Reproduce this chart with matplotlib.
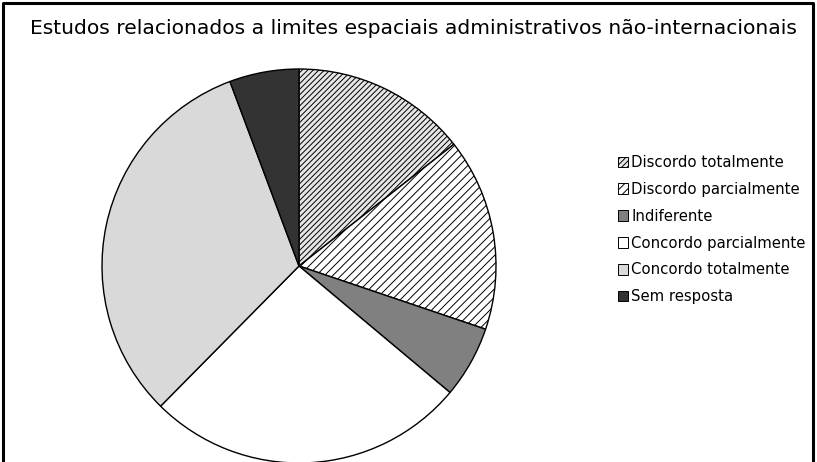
import matplotlib.pyplot as plt
import matplotlib as mpl

mpl.rcParams['hatch.linewidth'] = 0.7

title = 'Estudos relacionados a limites espaciais administrativos não-internacionais'
labels = ['Discordo totalmente', 'Discordo parcialmente', 'Indiferente',
          'Concordo parcialmente', 'Concordo totalmente', 'Sem resposta']
values = [14.4, 15.8, 5.9, 26.3, 31.9, 5.7]
colors = ['#e6e6e6', 'white', '#808080', 'white', '#d9d9d9', '#333333']
hatches = ['//////', '////', None, None, None, None]

W, H = 817, 462
fig = plt.figure(figsize=(W / 100, H / 100), dpi=100)
ax = fig.add_axes([0, 0, 1, 1])

wedges, _ = ax.pie(values, colors=colors, startangle=90, counterclock=False,
                   center=(299, H - 266), radius=197,
                   wedgeprops=dict(edgecolor='black', linewidth=1.0))
for w, h in zip(wedges, hatches):
    if h:
        w.set_hatch(h)

ax.set_xlim(0, W)
ax.set_ylim(0, H)
ax.set_aspect('auto')
ax.axis('off')

# outer frame
ax.plot([3, 3, 813, 813], [0, H - 3, H - 3, 0], color='black', lw=2.2)

fig.text(30 / W, 1 - 29 / H, title, fontsize=14.6, va='center', ha='left')

leg = ax.legend(wedges, labels, loc='upper left', frameon=False,
                bbox_to_anchor=(612 / W, 1 - 149 / H), fontsize=10.7,
                handlelength=0.7, handleheight=0.7, handletextpad=0.2,
                labelspacing=0.8, borderaxespad=0)
for h in leg.legend_handles:
    h.set_linewidth(0.7)

fig.savefig('out.png', dpi=100)
